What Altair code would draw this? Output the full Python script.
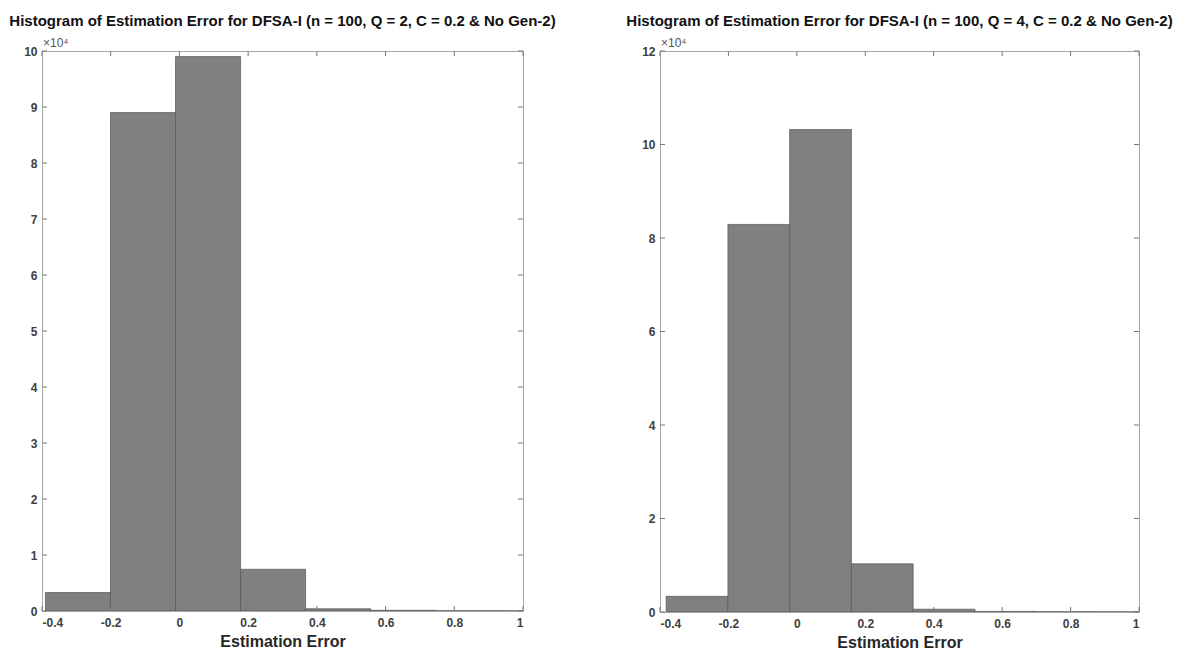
import altair as alt
import pandas as pd

# ---- data (counts, in units of 10^4) ----
x_ticks = [-0.4, -0.2, 0, 0.2, 0.4, 0.6, 0.8, 1]

q2_edges = [-0.390, -0.2007, -0.0114, 0.1779, 0.3672, 0.5565, 0.7458, 0.9351, 1.1244]
q2_counts_e4 = [0.33, 8.90, 9.90, 0.745, 0.04, 0.012, 0.006, 0.003]
q2_yticks = [0, 1, 2, 3, 4, 5, 6, 7, 8, 9, 10]
q2_ymax = 10
q2_title = "Histogram of Estimation Error for DFSA-I (n = 100, Q = 2, C = 0.2 & No Gen-2)"

q4_edges = [-0.382, -0.2015, -0.021, 0.1595, 0.340, 0.5205, 0.701, 0.8815, 1.062]
q4_counts_e4 = [0.335, 8.29, 10.32, 1.03, 0.06, 0.012, 0.005, 0.003]
q4_yticks = [0, 2, 4, 6, 8, 10, 12]
q4_ymax = 12
q4_title = "Histogram of Estimation Error for DFSA-I (n = 100, Q = 4, C = 0.2 & No Gen-2)"

FONT = "Liberation Sans, Arial, sans-serif"
BAR = "#808080"
EDGE = "#555555"
BOX = "#a6a6a6"
TXT = "#404040"
TICK = 5


def panel(edges, counts_e4, yticks, ymax, title, width, height):
    df = pd.DataFrame({
        "lo": edges[:-1],
        "hi": edges[1:],
        "count": [c * 10000 for c in counts_e4],
    })
    xscale = alt.Scale(domain=[-0.4, 1], nice=False, zero=False)
    yscale = alt.Scale(domain=[0, ymax * 10000], nice=False)
    ytick_vals = [v * 10000 for v in yticks]

    bars = alt.Chart(df).mark_rect(
        color=BAR, stroke=EDGE, strokeWidth=0.7, clip=True
    ).encode(
        x=alt.X("lo:Q", scale=xscale,
                axis=alt.Axis(values=x_ticks, labelExpr="'' + datum.value",
                              title="Estimation Error", titleFont=FONT,
                              titleFontSize=16, titleFontWeight="bold",
                              titleColor="#262626", titlePadding=5,
                              labelFont=FONT, labelFontSize=12,
                              labelFontWeight="bold", labelColor=TXT,
                              labelPadding=6, tickSize=0, domain=False,
                              grid=False)),
        x2="hi:Q",
        y=alt.Y("count:Q", scale=yscale,
                axis=alt.Axis(values=ytick_vals,
                              labelExpr="'' + (datum.value / 10000)",
                              title=None, labelFont=FONT, labelFontSize=12,
                              labelFontWeight="bold", labelColor=TXT,
                              labelPadding=5, tickSize=0, domain=False,
                              grid=False)),
        y2=alt.datum(0),
    )

    xt = pd.DataFrame({"t": x_ticks})
    yt = pd.DataFrame({"t": ytick_vals})
    bottom_ticks = alt.Chart(xt).mark_rule(color="#777777", strokeWidth=1).encode(
        x=alt.X("t:Q", scale=xscale), y=alt.value(height), y2=alt.value(height - TICK))
    top_ticks = alt.Chart(xt).mark_rule(color="#777777", strokeWidth=1).encode(
        x=alt.X("t:Q", scale=xscale), y=alt.value(0), y2=alt.value(TICK))
    left_ticks = alt.Chart(yt).mark_rule(color="#777777", strokeWidth=1).encode(
        y=alt.Y("t:Q", scale=yscale), x=alt.value(0), x2=alt.value(TICK))
    right_ticks = alt.Chart(yt).mark_rule(color="#777777", strokeWidth=1).encode(
        y=alt.Y("t:Q", scale=yscale), x=alt.value(width), x2=alt.value(width - TICK))

    exp_label = alt.Chart(pd.DataFrame({"s": ["×10⁴"]})).mark_text(
        align="left", baseline="bottom", font=FONT, fontSize=12, color="#555555"
    ).encode(x=alt.value(1), y=alt.value(-1), text="s:N")

    return alt.layer(bars, bottom_ticks, top_ticks, left_ticks, right_ticks,
                     exp_label).properties(
        width=width, height=height,
        title=alt.TitleParams(title, font=FONT, fontSize=15, fontWeight="bold",
                              color="#111111", anchor="middle", offset=8),
    )


left = panel(q2_edges, q2_counts_e4, q2_yticks, q2_ymax, q2_title, 481, 560)
right = panel(q4_edges, q4_counts_e4, q4_yticks, q4_ymax, q4_title, 479, 561)

chart = alt.hconcat(left, right, spacing=137, bounds="flush").configure_view(
    stroke=BOX, strokeWidth=1
).properties(padding={"left": 0, "top": 5, "right": 0, "bottom": 0},
             background="white")

chart.save("out.html", embed_options={"renderer": "svg", "actions": False})
